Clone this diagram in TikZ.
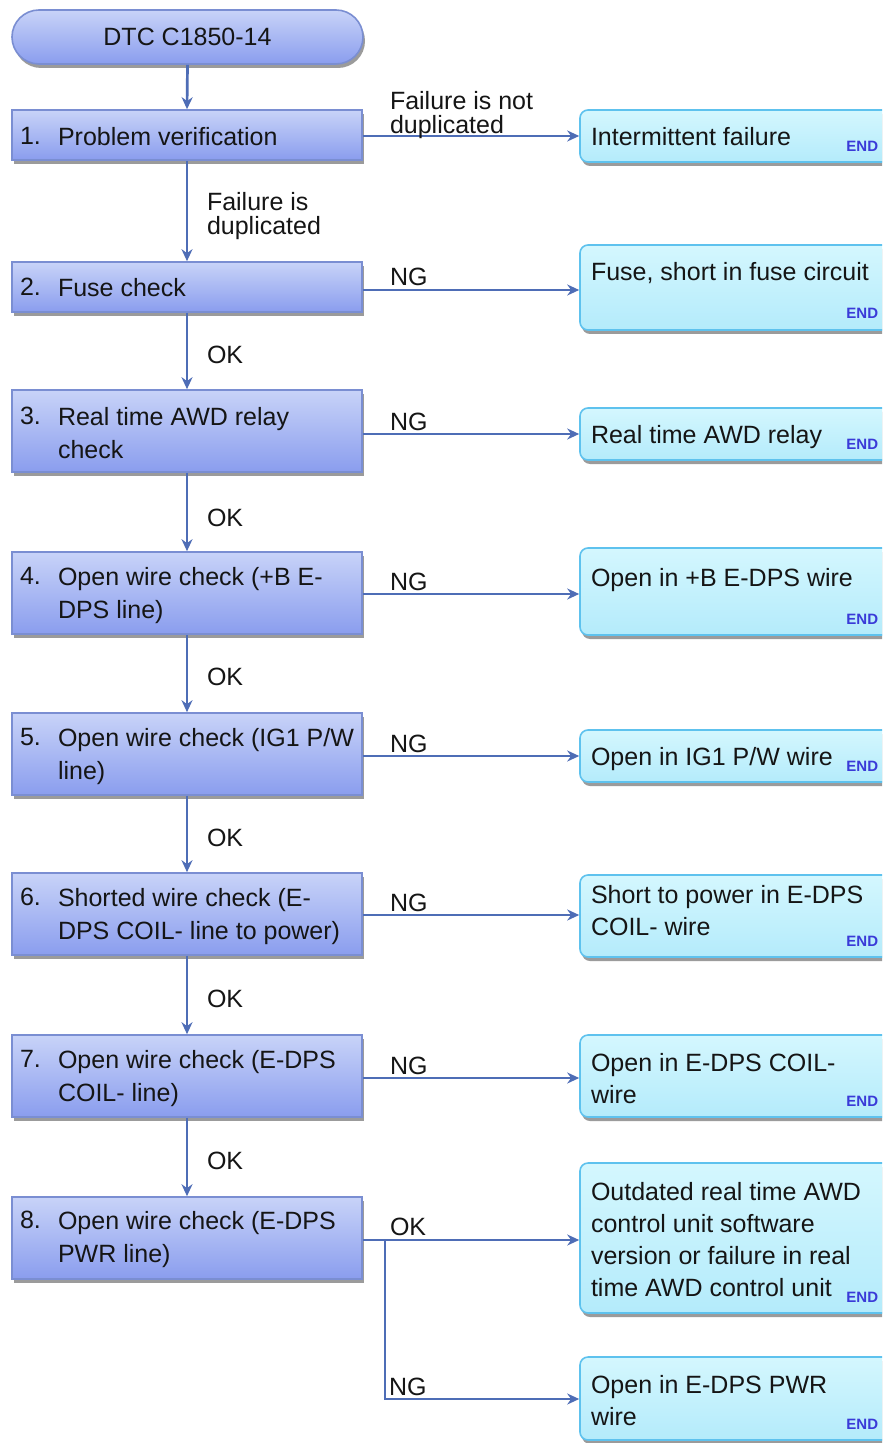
\documentclass[tikz,border=0pt]{standalone}
\usepackage{fontspec}
\setmainfont{Liberation Sans}
\usetikzlibrary{shadows,arrows.meta}
\definecolor{lbtop}{HTML}{C8D3F8}
\definecolor{lbbot}{HTML}{8A9DEE}
\definecolor{lbdraw}{HTML}{7A8ED2}
\definecolor{rbtop}{HTML}{D4F7FE}
\definecolor{rbbot}{HTML}{B4EBFB}
\definecolor{rbdraw}{HTML}{5EC2EE}
\definecolor{conn}{HTML}{4E6DB6}
\definecolor{endc}{HTML}{3A3AD8}
\definecolor{txt}{HTML}{151515}
\begin{document}
\begin{tikzpicture}[x=0.5pt,y=-0.5pt,
  shad/.style={drop shadow={shadow xshift=1pt, shadow yshift=-2pt, fill=black!60, opacity=0.65}},
  leftbox/.style={rectangle, draw=lbdraw, line width=0.8pt, top color=lbtop, bottom color=lbbot, minimum width=175pt, inner sep=0pt, shad},
  startbox/.style={rectangle, rounded corners=13.5pt, draw=lbdraw, line width=0.8pt, top color=lbtop, bottom color=lbbot, minimum width=175.5pt, minimum height=27pt, inner sep=0pt, shad, font=\fontsize{12.5}{15}\selectfont, text=txt},
  rightbox/.style={rectangle, rounded corners=4pt, draw=rbdraw, line width=0.8pt, top color=rbtop, bottom color=rbbot, minimum width=156pt, inner sep=0pt, shad},
  tx/.style={anchor=north west, inner sep=0pt, outer sep=0pt, align=left, font=\fontsize{12.5}{16.5}\selectfont, text=txt},
  rtx/.style={anchor=north west, inner sep=0pt, outer sep=0pt, align=left, font=\fontsize{12.5}{16}\selectfont, text=txt},
  lab/.style={anchor=north west, inner sep=0pt, outer sep=0pt, align=left, font=\fontsize{12.5}{12}\selectfont, text=txt},
  endlab/.style={anchor=base west, inner sep=0pt, font=\fontsize{7.5}{8}\selectfont\bfseries, text=endc},
  conn/.style={draw=conn, line width=1.35pt, -{Stealth[length=6pt,width=5.5pt]}}
]
\useasboundingbox (0,0) rectangle (882,1443);
\fill[white] (0,0) rectangle (882,1443);
\clip (0,0) rectangle (882,1443);

% start
\node[startbox] (s) at (187.5,37) {DTC C1850-14};

% left boxes
\node[leftbox, minimum height=25pt] (b1) at (187,135) {};
\node[leftbox, minimum height=25pt] (b2) at (187,287) {};
\node[leftbox, minimum height=41pt] (b3) at (187,431) {};
\node[leftbox, minimum height=41pt] (b4) at (187,593) {};
\node[leftbox, minimum height=41pt] (b5) at (187,754) {};
\node[leftbox, minimum height=41pt] (b6) at (187,914) {};
\node[leftbox, minimum height=41pt] (b7) at (187,1076) {};
\node[leftbox, minimum height=41pt] (b8) at (187,1238) {};

% left texts
\node[tx] (n1) at (20,127) {1.};  \node[tx] (t1) at (58,127) {Problem verification};
\node[tx] (n2) at (20,278) {2.};  \node[tx] (t2) at (58,278) {Fuse check};
\node[tx] (n3) at (20,407) {3.};  \node[tx] (t3) at (58,407) {Real time AWD relay\\check};
\node[tx] (n4) at (20,567) {4.};  \node[tx] (t4) at (58,567) {Open wire check (+B E-\\DPS line)};
\node[tx] (n5) at (20,728) {5.};  \node[tx] (t5) at (58,728) {Open wire check (IG1 P/W\\line)};
\node[tx] (n6) at (20,888) {6.};  \node[tx] (t6) at (58,888) {Shorted wire check (E-\\DPS COIL- line to power)};
\node[tx] (n7) at (20,1050) {7.}; \node[tx] (t7) at (58,1050) {Open wire check (E-DPS\\COIL- line)};
\node[tx] (n8) at (20,1211) {8.}; \node[tx] (t8) at (58,1211) {Open wire check (E-DPS\\PWR line)};

% right boxes
\node[rightbox, minimum height=26pt] (r1) at (736,136) {};
\node[rightbox, minimum height=42.5pt] (r2) at (736,287.5) {};
\node[rightbox, minimum height=26pt] (r3) at (736,434) {};
\node[rightbox, minimum height=43.5pt] (r4) at (736,591.5) {};
\node[rightbox, minimum height=26pt] (r5) at (736,756) {};
\node[rightbox, minimum height=41pt] (r6) at (736,916) {};
\node[rightbox, minimum height=41pt] (r7) at (736,1076) {};
\node[rightbox, minimum height=75pt] (r8) at (736,1238) {};
\node[rightbox, minimum height=41.5pt] (r9) at (736,1398.5) {};

% right texts
\node[rtx] (rt1) at (591,127) {Intermittent failure};
\node[rtx] (rt2) at (591,262) {Fuse, short in fuse circuit};
\node[rtx] (rt3) at (591,425) {Real time AWD relay};
\node[rtx] (rt4) at (591,568) {Open in +B E-DPS wire};
\node[rtx] (rt5) at (591,747) {Open in IG1 P/W wire};
\node[rtx] (rt6) at (591,885) {Short to power in E-DPS\\COIL- wire};
\node[rtx] (rt7) at (591,1053) {Open in E-DPS COIL-\\wire};
\node[rtx] (rt8) at (591,1182) {Outdated real time AWD\\control unit software\\version or failure in real\\time AWD control unit};
\node[rtx] (rt9) at (591,1375) {Open in E-DPS PWR\\wire};

% END labels
\node[endlab] (e1) at (846,152) {END};
\node[endlab] (e2) at (846,319) {END};
\node[endlab] (e3) at (846,449) {END};
\node[endlab] (e4) at (846,624) {END};
\node[endlab] (e5) at (846,771) {END};
\node[endlab] (e6) at (846,946) {END};
\node[endlab] (e7) at (846,1106) {END};
\node[endlab] (e8) at (846,1302) {END};
\node[endlab] (e9) at (846,1429) {END};

% vertical connectors
\draw[conn] (s.south) -- (b1.north);
\draw[conn] (b1.south) -- (b2.north);
\draw[conn] (b2.south) -- (b3.north);
\draw[conn] (b3.south) -- (b4.north);
\draw[conn] (b4.south) -- (b5.north);
\draw[conn] (b5.south) -- (b6.north);
\draw[conn] (b6.south) -- (b7.north);
\draw[conn] (b7.south) -- (b8.north);

% horizontal connectors
\coordinate (h1) at ([yshift=-0.5pt]b1.east);
\coordinate (h2) at ([yshift=-1.5pt]b2.east);
\coordinate (h3) at ([yshift=-1.5pt]b3.east);
\coordinate (h4) at ([yshift=-0.5pt]b4.east);
\coordinate (h5) at ([yshift=-1pt]b5.east);
\coordinate (h6) at ([yshift=-0.5pt]b6.east);
\coordinate (h7) at ([yshift=-1pt]b7.east);
\coordinate (h8) at ([yshift=-1pt]b8.east);
\draw[conn] (h1) -- (h1 -| r1.west);
\draw[conn] (h2) -- (h2 -| r2.west);
\draw[conn] (h3) -- (h3 -| r3.west);
\draw[conn] (h4) -- (h4 -| r4.west);
\draw[conn] (h5) -- (h5 -| r5.west);
\draw[conn] (h6) -- (h6 -| r6.west);
\draw[conn] (h7) -- (h7 -| r7.west);
\draw[conn] (h8) -- (h8 -| r8.west);
\coordinate (br) at (h8 -| 385,0);
\coordinate (bn) at (385,1399);
\draw[conn] (br) -- (bn) -- (bn -| r9.west);

% labels
\node[lab] (l1) at (390,91) {Failure is not\\duplicated};
\node[lab] (l2) at (207,192) {Failure is\\duplicated};
\node[lab] (ng2) at (390,268) {NG};
\node[lab] (ng3) at (390,413) {NG};
\node[lab] (ng4) at (390,573) {NG};
\node[lab] (ng5) at (390,735) {NG};
\node[lab] (ng6) at (390,894) {NG};
\node[lab] (ng7) at (390,1057) {NG};
\node[lab] (ok8) at (390,1218) {OK};
\node[lab] (ng8) at (389,1378) {NG};
\node[lab] (ok2) at (207,346) {OK};
\node[lab] (ok3) at (207,509) {OK};
\node[lab] (ok4) at (207,668) {OK};
\node[lab] (ok5) at (207,829) {OK};
\node[lab] (ok6) at (207,990) {OK};
\node[lab] (ok7) at (207,1152) {OK};
\end{tikzpicture}
\end{document}
